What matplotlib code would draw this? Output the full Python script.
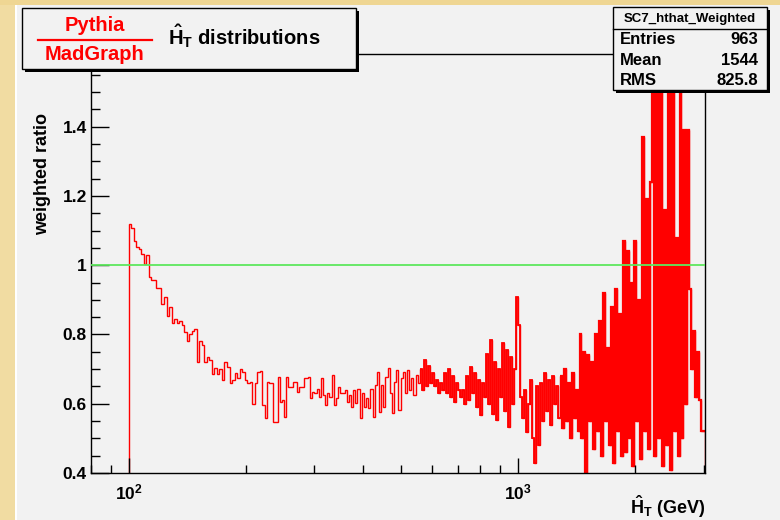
import numpy as np
import matplotlib.pyplot as plt
from matplotlib.patches import Rectangle
from matplotlib.lines import Line2D
from matplotlib.ticker import FixedLocator, NullFormatter, FuncFormatter, MultipleLocator

plt.rcParams['font.family'] = 'Liberation Sans'
plt.rcParams['font.weight'] = 'bold'
plt.rcParams['mathtext.fontset'] = 'custom'
plt.rcParams['mathtext.rm'] = 'Liberation Sans:bold'
plt.rcParams['mathtext.bf'] = 'Liberation Sans:bold'
plt.rcParams['mathtext.it'] = 'Liberation Sans:bold'

# --- data (ratio per bin), split in four HT ranges ---
# 100 - 224 GeV
ratio_low = [1.12, 1.107, 1.07, 1.053, 1.046, 1.033, 1.005, 1.03, 0.965, 0.957,
             0.957, 0.935, 0.935, 0.887, 0.907, 0.853, 0.88, 0.832, 0.845, 0.832,
             0.839, 0.827, 0.808, 0.781, 0.80, 0.81, 0.816, 0.721, 0.781, 0.77,
             0.721, 0.736, 0.726, 0.685, 0.702, 0.685, 0.70, 0.668, 0.721, 0.707,
             0.659, 0.668, 0.688, 0.673, 0.699, 0.693, 0.668, 0.66, 0.664, 0.599,
             0.659, 0.693, 0.695, 0.595]
# 224 - 560 GeV
ratio_mid = [0.558, 0.664, 0.659, 0.659, 0.548, 0.548, 0.678, 0.606, 0.611, 0.563,
             0.678, 0.649, 0.649, 0.664, 0.664, 0.635, 0.649, 0.649, 0.673, 0.673,
             0.678, 0.616, 0.635, 0.63, 0.644, 0.62, 0.673, 0.625, 0.596, 0.63,
             0.62, 0.683, 0.596, 0.616, 0.649, 0.63, 0.63, 0.64, 0.606, 0.625,
             0.591, 0.64, 0.601, 0.644, 0.558, 0.63, 0.591, 0.616, 0.587, 0.644,
             0.563, 0.654, 0.693, 0.577, 0.654, 0.591, 0.678, 0.702, 0.63, 0.572,
             0.664, 0.697, 0.582, 0.673, 0.693, 0.63, 0.697, 0.64, 0.673, 0.625,
             0.683, 0.659]
# 560 - 1280 GeV
ratio_high = [0.70, 0.64, 0.726, 0.65, 0.71, 0.66, 0.69,
              0.65, 0.67, 0.63, 0.66, 0.64,
              0.69, 0.63, 0.70, 0.62, 0.68, 0.606, 0.66, 0.64,
              0.62, 0.64, 0.60,
              0.68, 0.61, 0.707, 0.63, 0.69, 0.591, 0.67, 0.567, 0.66, 0.62,
              0.745, 0.60, 0.784, 0.57, 0.72, 0.553, 0.70, 0.62,
              0.774, 0.58, 0.755, 0.534, 0.736, 0.60, 0.70, 0.909, 0.827,
              0.62, 0.56, 0.64, 0.519, 0.60,
              0.67, 0.50, 0.428, 0.65, 0.481, 0.66, 0.55,
              0.688, 0.58, 0.67, 0.54, 0.68, 0.60, 0.65, 0.56]
# 1280 - 3025 GeV
ratio_tail = [0.68, 0.53, 0.70, 0.55, 0.66, 0.50, 0.69, 0.56, 0.64, 0.52,
              0.80, 0.50, 0.75, 0.40, 0.74, 0.55, 0.72,
              0.47, 0.80, 0.52, 0.84, 0.45, 0.92, 0.55, 0.76,
              0.48, 0.88, 0.43, 0.93, 0.52, 0.86, 0.45, 1.07,
              0.46, 1.04, 0.50, 0.95, 0.42, 1.07, 0.55, 0.90,
              0.44, 1.37, 0.52, 1.19, 0.47, 1.24,
              1.70, 0.45, 1.65, 0.50, 1.80,
              0.42, 1.16, 0.48, 1.75, 0.41, 1.70, 0.52, 1.08, 0.45, 1.80, 0.50, 1.39,
              0.60, 1.39, 0.93,
              0.70, 0.81, 0.62, 0.75,
              0.61, 0.52, 0.52]
range_edges = [100, 223.7, 560, 1282, 3025]

# build bin edges for each HT range
segments = [ratio_low, ratio_mid, ratio_high, ratio_tail]
seg_edges = []
for seg, lo, hi in zip(segments, range_edges[:-1], range_edges[1:]):
    seg_edges.append(np.geomspace(lo, hi, len(seg) + 1))
edges = np.concatenate([seg_edges[0]] + [e[1:] for e in seg_edges[1:]])
values = np.concatenate(segments)

W, H = 780, 520
fig = plt.figure(figsize=(W / 100, H / 100), dpi=100)
fig.patch.set_facecolor('#f2f2f2')


def px(x, y):
    """pixel (from top-left) -> figure fraction"""
    return x / W, 1 - y / H


# slide background strips on the left and top
fig.patches.append(Rectangle(px(0, H), 15 / W, 1, transform=fig.transFigure,
                             facecolor='#f1dca2', edgecolor='none', zorder=-1))
fig.patches.append(Rectangle(px(15, H), 1.5 / W, 1, transform=fig.transFigure,
                             facecolor='white', edgecolor='none', zorder=-1))
fig.patches.append(Rectangle(px(0, 5), 1, 5 / H, transform=fig.transFigure,
                             facecolor='#efd693', edgecolor='none', zorder=-1))

ax = fig.add_axes([91 / W, 1 - 473 / H, (705 - 91) / W, (473 - 54) / H])
ax.set_facecolor('#f2f2f2')

ax.stairs(values, edges, baseline=0, color='#ff0000', lw=1.0, zorder=1)
# the dense high-HT parts are drawn again with heavier lines so they fill up
ax.stairs(ratio_high, seg_edges[2], baseline=None, color='#ff0000', lw=1.3, zorder=1)
ax.stairs(ratio_tail, seg_edges[3], baseline=None, color='#ff0000', lw=1.6, zorder=1)
ax.axhline(1.0, color='#5ee85e', lw=1.3, zorder=3)

ax.set_xscale('log')
ax.set_xlim(80, 3025)
ax.set_ylim(0.4, 1.61)

ax.xaxis.set_major_locator(FixedLocator([100, 1000]))
ax.xaxis.set_minor_locator(FixedLocator([80, 90, 200, 300, 400, 500, 600, 700, 800, 900, 2000, 3000]))
ax.xaxis.set_major_formatter(FuncFormatter(lambda v, p: r'$10^{%d}$' % round(np.log10(v))))
ax.xaxis.set_minor_formatter(NullFormatter())
ax.yaxis.set_major_locator(MultipleLocator(0.2))
ax.yaxis.set_minor_locator(MultipleLocator(0.05))
ax.yaxis.set_major_formatter(FuncFormatter(lambda v, p: '%g' % round(v, 2)))

ax.tick_params(axis='x', which='major', direction='in', length=11, width=1, labelsize=12.5, pad=7)
ax.tick_params(axis='x', which='minor', direction='in', length=5.5, width=1)
ax.tick_params(axis='y', which='major', direction='in', length=13, width=1, labelsize=12.5, pad=3)
ax.tick_params(axis='y', which='minor', direction='in', length=6.5, width=1)
for s in ax.spines.values():
    s.set_linewidth(1.0)

fig.text(*px(43, 174), 'weighted ratio', rotation=90, ha='center', va='center',
         fontsize=13, fontweight='bold')
fig.text(*px(705, 514), r'$\hat{H}_T$ (GeV)', ha='right', va='baseline',
         fontsize=13, fontweight='bold')


# boxes with a drop shadow
def box(x0, y0, x1, y1):
    fig.patches.append(Rectangle(px(x0 + 3, y1 + 3), (x1 - x0) / W, (y1 - y0) / H,
                                 transform=fig.transFigure, facecolor='black',
                                 edgecolor='none', zorder=5))
    fig.patches.append(Rectangle(px(x0, y1), (x1 - x0) / W, (y1 - y0) / H,
                                 transform=fig.transFigure, facecolor='#f2f2f2',
                                 edgecolor='black', lw=1.0, zorder=6))


box(22, 8, 356, 69)
fig.text(*px(95, 31), 'Pythia', color='#ff0000', ha='center', va='baseline',
         fontsize=14.5, fontweight='bold', zorder=7)
fig.text(*px(95, 60), 'MadGraph', color='#ff0000', ha='center', va='baseline',
         fontsize=14.5, fontweight='bold', zorder=7)
fig.lines.append(Line2D([38 / W, 152 / W], [1 - 40 / H, 1 - 40 / H], transform=fig.transFigure,
                        color='#ff0000', lw=1.6, zorder=7))
fig.text(*px(168, 45), r'$\hat{H}_T$ distributions', ha='left', va='baseline',
         fontsize=14.5, fontweight='bold', zorder=7)

# stats box
box(613, 7, 767, 90)
fig.lines.append(Line2D([613 / W, 767 / W], [1 - 29 / H, 1 - 29 / H], transform=fig.transFigure,
                        color='black', lw=1.0, zorder=7))
fig.text(*px(690, 22), 'SC7_hthat_Weighted', ha='center', va='baseline',
         fontsize=9.5, fontweight='bold', zorder=7)
for lab, val, yb in [('Entries', '963', 44), ('Mean', '1544', 65), ('RMS', '825.8', 85)]:
    fig.text(*px(620, yb), lab, ha='left', va='baseline', fontsize=12, fontweight='bold', zorder=7)
    fig.text(*px(758, yb), val, ha='right', va='baseline', fontsize=12, fontweight='bold', zorder=7)

fig.savefig('out.png', dpi=100, facecolor=fig.get_facecolor())
